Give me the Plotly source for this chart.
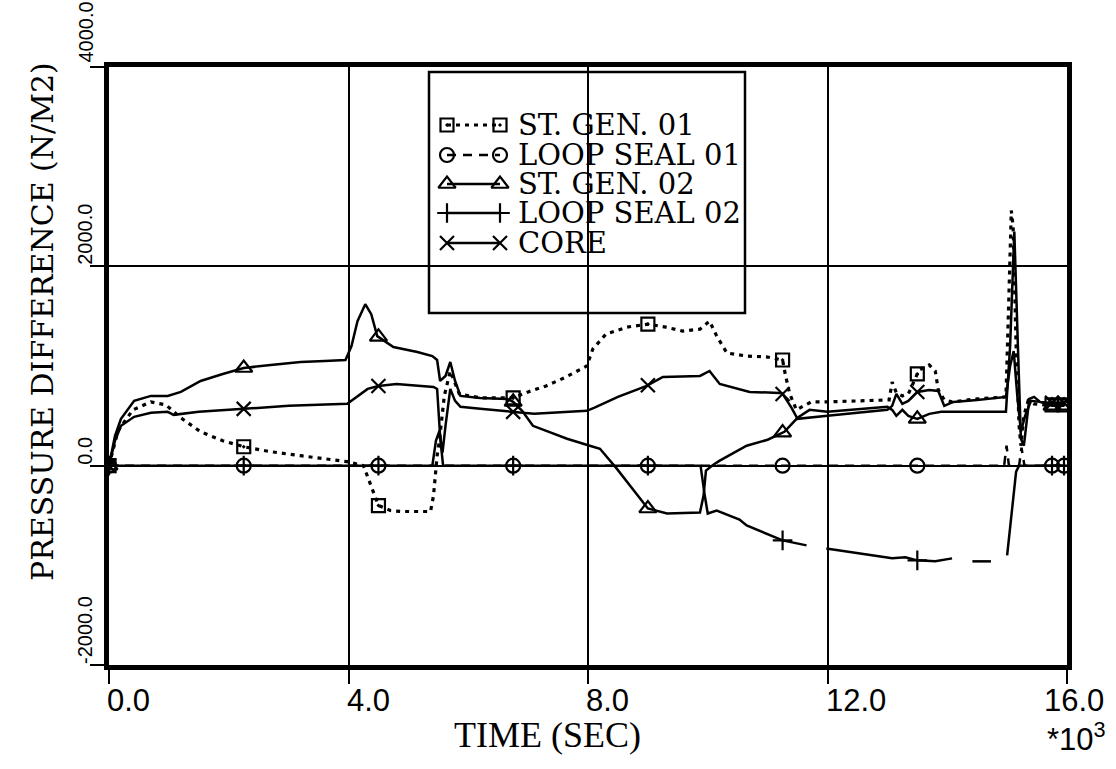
import numpy as np
import plotly.graph_objects as go

# ---------------- data (time in s, pressure difference in N/m2) ----------------
t_sg01 = [0, 150, 400, 700, 950, 1200, 1530, 1900, 2250, 2700, 3200, 3600, 3980, 4250, 4330,
          4420, 4500, 4700, 4870, 5100, 5370, 5420, 5450, 5480, 5520, 5600, 5700, 5850, 6200, 6750,
          7000, 7300, 7600, 7980, 8080, 8300, 8650, 9000, 9300, 9580, 9870, 10030, 10150, 10320, 10650,
          11000, 11250, 11300, 11370, 11480, 11600, 11730, 12000, 12500, 13030, 13080, 13150, 13250, 13350, 13530,
          13700, 13800, 13850, 13950, 14080, 14500, 14980, 15020, 15070, 15100, 15150, 15200, 15230, 15280, 15350,
          15450, 15600, 15750, 15950]
p_sg01 = [0, 350, 560, 640, 610, 480, 340, 250, 190, 140, 100, 70, 40, 0, -130,
          -260, -400, -450, -460, -460, -460, -300, -50, 100, 260, 700, 950, 720, 680, 680,
          740, 800, 880, 1000, 1170, 1320, 1390, 1420, 1390, 1350, 1370, 1450, 1300, 1130, 1100,
          1090, 1060, 900, 720, 560, 600, 640, 640, 650, 660, 840, 730, 700, 720, 960,
          1010, 950, 760, 660, 640, 670, 690, 1500, 2560, 2400, 1200, 400, 200, 500, 650,
          620, 610, 610, 610]

t_ls01 = [0, 2000, 4000, 5400, 8000, 10000, 12000, 14000, 14950, 14990, 15030, 15200, 15240, 15290, 15500, 15950]
p_ls01 = [0, 0, 0, 0, 0, 0, 0, 0, 0, 200, 0, 0, 180, 0, 0, 0]

t_sg02 = [0, 100, 200, 420, 700, 980, 1200, 1530, 1900, 2250, 2700, 3200, 3600, 3950, 4050,
          4150, 4280, 4380, 4480, 4750, 5150, 5400, 5480, 5530, 5620, 5700, 5780, 5870, 6200, 6650,
          6750, 6900, 7080, 7650, 8030, 8200, 8480, 8870, 9000, 9320, 9870, 9930, 9970, 10070, 10200,
          10650, 11000, 11280, 11500, 11700, 12000, 13000, 13080, 13150, 13250, 13350, 13500, 13700, 13900, 14150,
          14980, 15050, 15120, 15180, 15230, 15280, 15370, 15450, 15550, 15750, 15950]
p_sg02 = [0, 300, 470, 650, 700, 700, 740, 850, 920, 980, 1010, 1040, 1050, 1060, 1200,
          1450, 1620, 1520, 1300, 1190, 1140, 1100, 1060, 850, 900, 1040, 850, 700, 680, 670,
          640, 550, 400, 270, 200, 170, -30, -330, -430, -480, -470, -300, -50, 0, 50,
          200, 260, 340, 480, 560, 540, 590, 560, 500, 560, 500, 470, 520, 540, 540,
          540, 1200, 2350, 1200, 270, 200, 670, 690, 640, 600, 600]

t_ls02 = [0, 2000, 4000, 5400, 5460, 5520, 5580, 7000, 9000, 9880, 9950, 10000, 10150, 10530, 10650,
          11080, 11250, 11650, 11800, 11980, 12500, 13080, 13300, 13500, 13800, 14080, 14250, 14420, 14730, 14850,
          15000, 15150, 15200, 15500, 15950]
p_ls02 = [0, 0, 0, 0, 250, 350, 0, 0, 0, 0, -300, -480, -450, -540, -600,
          -710, -750, -800, None, -830, -880, -930, -920, -950, -960, -930, None, -960, -960, None,
          -900, -60, 0, 0, 0]

t_core = [0, 100, 200, 420, 700, 980, 1080, 1500, 2250, 3000, 3980, 4050, 4320, 4500, 4800,
          5420, 5480, 5530, 5570, 5620, 5700, 5780, 5870, 6200, 6750, 7100, 7980, 8100, 8500, 8980,
          9250, 9870, 10030, 10200, 10700, 11200, 11250, 11400, 11500, 11700, 12000, 13000, 13080, 13150, 13250,
          13350, 13500, 13700, 13850, 13950, 14100, 14500, 14980, 15050, 15110, 15170, 15230, 15300, 15400, 15550,
          15750, 15950]
p_core = [0, 250, 400, 490, 530, 540, 510, 540, 570, 600, 620, 650, 770, 800, 820,
          790, 770, 300, 130, 400, 770, 650, 590, 570, 540, 520, 550, 580, 690, 800,
          890, 900, 950, 820, 740, 730, 720, 580, 470, 480, 500, 560, 600, 720, 620,
          650, 740, 760, 750, 600, 640, 660, 690, 1000, 1150, 700, 340, 500, 650, 640,
          630, 630]

marker_t = [0, 2250, 4500, 6750, 9000, 11250, 13500, 15750, 15950]

series_names = ["ST. GEN. 01", "LOOP SEAL 01", "ST. GEN. 02", "LOOP SEAL 02", "CORE"]

x_ticks = [0, 4000, 8000, 12000, 16000]
x_tick_text = ["0.0", "4.0", "8.0", "12.0", "16.0"]
y_ticks = [-2000, 0, 2000, 4000]
y_tick_text = ["-2000.0", "0.0", "2000.0", "4000.0"]

# ---------------- styling ----------------
W, H = 1116, 769
SL, SR, ST, SB = 109, 1067, 67, 665   # plot area in screen pixels (body margin set to 0)
PW, PH = SR - SL, SB - ST
ML, MT = SL, ST
MR, MB = W - ML - PW, H - MT - PH
SERIF = "DejaVu Serif"
SANS = "Liberation Sans"

styles = [
    dict(dash="4px,5px", width=3.2, symbol="square-open-dot", size=13),
    dict(dash="9px,7px", width=2.5, symbol="circle-open", size=14),
    dict(dash="solid", width=2.5, symbol="triangle-up-open", size=15),
    dict(dash="solid", width=2.5, symbol="cross-thin-open", size=14),
    dict(dash="solid", width=2.5, symbol="x-thin-open", size=14),
]
data = [(t_sg01, p_sg01), (t_ls01, p_ls01), (t_sg02, p_sg02), (t_ls02, p_ls02), (t_core, p_core)]

fig = go.Figure()
for (tt, pp), st, nm in zip(data, styles, series_names):
    fig.add_trace(go.Scatter(x=tt, y=pp, mode="lines", name=nm, showlegend=False,
                             connectgaps=False,
                             line=dict(color="black", width=st["width"], dash=st["dash"])))
    valid = [(a, b) for a, b in zip(tt, pp) if b is not None]
    vt = np.array([a for a, _ in valid], dtype=float)
    vp = np.array([b for _, b in valid], dtype=float)
    my = np.interp(marker_t, vt, vp)
    fig.add_trace(go.Scatter(x=marker_t, y=my, mode="markers", showlegend=False,
                             marker=dict(symbol=st["symbol"], size=st["size"], color="black",
                                         line=dict(color="black", width=2.2))))

# ---------------- custom legend ----------------
def px2fx(px):
    return (px - SL) / PW

def py2fy(py):
    return (SB - py) / PH

row_py = [125, 155, 184, 213, 243]
kx0, kx1 = px2fx(447), px2fx(500)
for i, (st, nm) in enumerate(zip(styles, series_names)):
    fy = py2fy(row_py[i])
    fig.add_trace(go.Scatter(x=[kx0, kx1], y=[fy, fy], xaxis="x2", yaxis="y2",
                             mode="lines+markers", showlegend=False, cliponaxis=False,
                             line=dict(color="black", width=st["width"], dash=st["dash"]),
                             marker=dict(symbol=st["symbol"], size=st["size"], color="black",
                                         line=dict(color="black", width=2.2))))
    fig.add_annotation(x=px2fx(516), y=fy, xref="paper", yref="paper", text=nm,
                       showarrow=False, xanchor="left", yanchor="middle",
                       font=dict(family=SERIF, size=29, color="black"))

fig.add_shape(type="rect", xref="paper", yref="paper",
              x0=px2fx(429), x1=px2fx(745), y0=py2fy(313), y1=py2fy(72),
              fillcolor="white", line=dict(color="black", width=2.5), layer="between")

# ---------------- tick labels ----------------
for v, s in zip(x_ticks, x_tick_text):
    fig.add_annotation(x=v, y=0, xref="x", yref="paper", text=s, showarrow=False,
                       xanchor="left", yanchor="top", xshift=(-25 if v == 16000 else -4), yshift=-16,
                       font=dict(family=SANS, size=31, color="black"))
for v, s in zip(y_ticks, y_tick_text):
    fig.add_annotation(x=0, y=v, xref="paper", yref="y", text=s, showarrow=False,
                       textangle=-90, xanchor="right", yanchor="bottom", xshift=-11,
                       yshift=(2 if v == 4000 else -1),
                       font=dict(family=SANS, size=20, color="black"))

fig.add_annotation(x=16000, y=0, xref="x", yref="paper", text="*10<sup>3</sup>", showarrow=False,
                   xanchor="left", yanchor="top", xshift=-22, yshift=-50,
                   font=dict(family=SANS, size=31, color="black"))
fig.add_annotation(x=px2fx(547), y=py2fy(735), xref="paper", yref="paper", text="TIME (SEC)",
                   showarrow=False, xanchor="center", yanchor="middle",
                   font=dict(family="Liberation Serif", size=36, color="black"))
fig.add_annotation(x=px2fx(42), y=py2fy(322), xref="paper", yref="paper",
                   text="PRESSURE DIFFERENCE (N/M2)", showarrow=False, textangle=-90,
                   xanchor="center", yanchor="middle",
                   font=dict(family=SERIF, size=30, color="black"))

axis_common = dict(showline=True, linewidth=5, linecolor="black", mirror=True,
                   showgrid=True, gridcolor="black", gridwidth=1.8, zeroline=False,
                   ticks="outside", ticklen=14, tickwidth=2, tickcolor="black",
                   showticklabels=False)

fig.update_layout(
    width=W, height=H, margin=dict(l=ML, r=MR, t=MT, b=MB),
    paper_bgcolor="white", plot_bgcolor="white", showlegend=False,
    xaxis=dict(range=[0, 16000], tickvals=x_ticks, **axis_common),
    yaxis=dict(range=[-2000, 4000], tickvals=y_ticks, **axis_common),
    xaxis2=dict(overlaying="x", range=[0, 1], visible=False),
    yaxis2=dict(overlaying="y", range=[0, 1], visible=False),
)

fig.write_html("out.html", config={"displayModeBar": False},
               post_script="document.body.style.margin='0';document.body.style.overflow='hidden';")
